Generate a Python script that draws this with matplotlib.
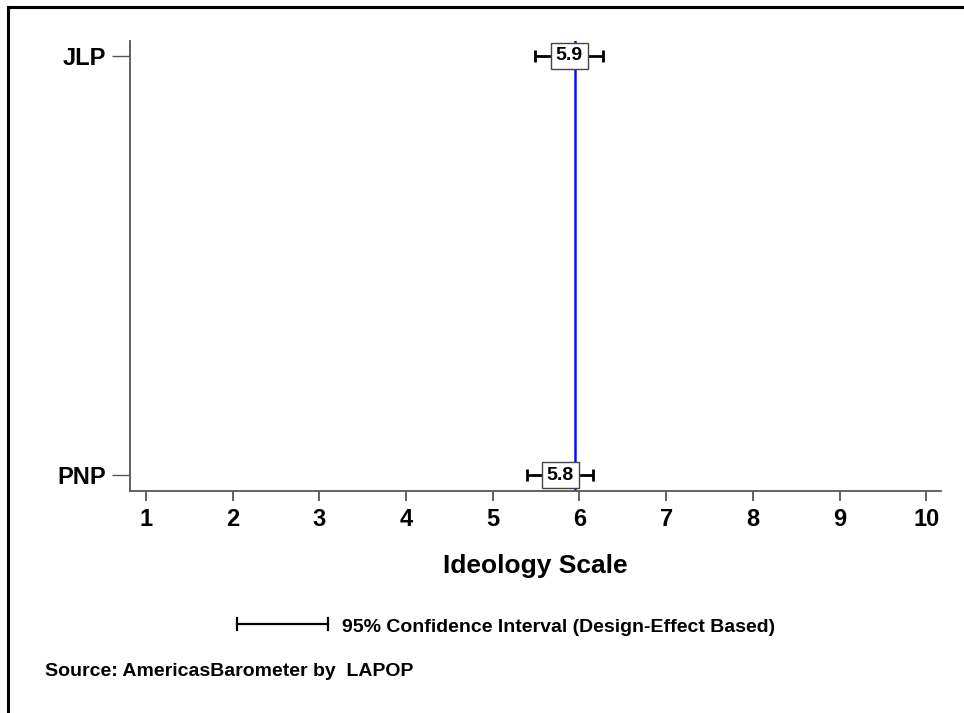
import matplotlib
matplotlib.use("Agg")
import matplotlib.pyplot as plt
from matplotlib.lines import Line2D

plt.rcParams['font.family'] = ['Liberation Sans', 'DejaVu Sans']
plt.rcParams['font.weight'] = 'bold'

# party means and 95% CI bounds (ideology scale 1-10)
parties = ["PNP", "JLP"]
means = [5.78, 5.88]
ci_low = [5.39, 5.49]
ci_high = [6.16, 6.27]
labels = ["5.8", "5.9"]
overall_mean = 5.95
x_ticks = [1, 2, 3, 4, 5, 6, 7, 8, 9, 10]

W, H = 964, 713
fig = plt.figure(figsize=(W / 100, H / 100), dpi=100)
ax = fig.add_axes([130 / W, 1 - 491 / H, 811 / W, 450.3 / H])

ypos = list(range(len(parties)))

ax.axvline(overall_mean, color="#0a0aff", lw=1.8, zorder=1)

for y, m, lo, hi, lab in zip(ypos, means, ci_low, ci_high, labels):
    ax.errorbar(m, y, xerr=[[m - lo], [hi - m]], fmt="none", ecolor="black",
                elinewidth=2, capsize=4.6, capthick=2, zorder=2)
    ax.text(m, y, lab, ha="center", va="center", fontsize=14, fontweight="bold",
            zorder=3,
            bbox=dict(boxstyle="square,pad=0.25", facecolor="white", edgecolor="#444444", lw=1))

ax.set_xlim(0.815, 10.17)
ax.set_ylim(-0.038, 1.0365)
ax.set_xticks(x_ticks)
ax.set_xticklabels([str(t) for t in x_ticks], fontsize=17, fontweight="bold")
ax.set_yticks(ypos)
ax.set_yticklabels(parties, fontsize=17, fontweight="bold")
ax.tick_params(axis="x", length=7.2, width=1.3, color="#555555", pad=5.4)
ax.tick_params(axis="y", length=13, width=1, color="#555555", pad=4.3)
for s in ["top", "right"]:
    ax.spines[s].set_visible(False)
for s in ["left", "bottom"]:
    ax.spines[s].set_color("#555555")
    ax.spines[s].set_linewidth(1.3)

fig.text((130 + 941) / 2 / W, 1 - 573 / H, "Ideology Scale", fontsize=19,
         fontweight="bold", ha="center", va="baseline")

# legend for the confidence interval
ly = 1 - 624 / H
fig.add_artist(Line2D([237 / W, 328 / W], [ly, ly], color="black", lw=1.6))
for xx in [237, 328]:
    fig.add_artist(Line2D([xx / W, xx / W], [ly - 6 / H, ly + 6 / H], color="black", lw=1.6))
fig.text(342 / W, 1 - 625 / H, "95% Confidence Interval (Design-Effect Based)", fontsize=14,
         fontweight="bold", va="center_baseline")
fig.text(45 / W, 1 - 670 / H, "Source: AmericasBarometer by  LAPOP", fontsize=14,
         fontweight="bold", va="center_baseline")

# frame (left and top edges)
fig.add_artist(Line2D([8 / W, 8 / W], [0, 1 - 7 / H], color="black", lw=2.2))
fig.add_artist(Line2D([8 / W, 1], [1 - 7 / H, 1 - 7 / H], color="black", lw=2.2))

fig.savefig("out.png", dpi=100)
